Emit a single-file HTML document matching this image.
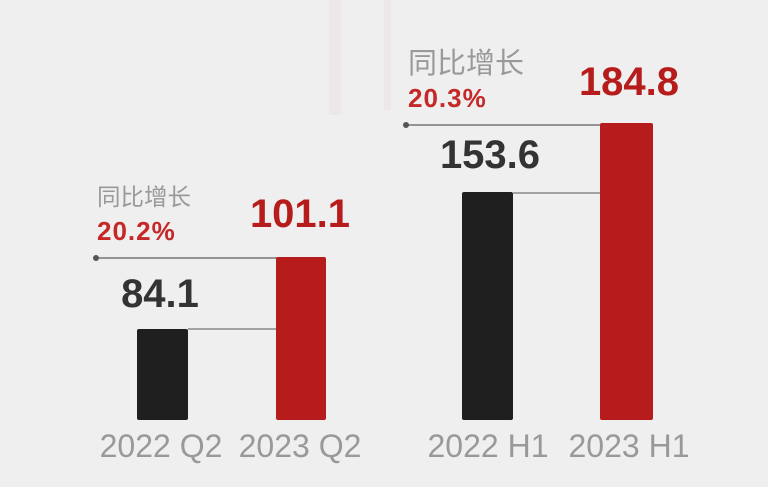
<!DOCTYPE html>
<html><head><meta charset="utf-8"><style>
html,body{margin:0;padding:0;background:#efefef;}
svg{display:block;}
</style></head><body>
<svg width="768" height="487" viewBox="0 0 768 487" xmlns="http://www.w3.org/2000/svg">
<rect width="768" height="487" fill="#efefef"/>
<rect x="329" y="0" width="12" height="115" fill="#e8dede" opacity="0.35"/>
<rect x="384" y="0" width="7" height="110" fill="#e8dede" opacity="0.35"/>
<!-- left group -->
<line x1="96" y1="258" x2="278" y2="258" stroke="#777" stroke-width="1.5"/>
<circle cx="96" cy="258" r="3" fill="#555"/>
<line x1="188" y1="329" x2="278" y2="329" stroke="#888" stroke-width="1.5"/>
<rect x="137" y="329" width="51" height="91" rx="2" fill="#1f1f1f"/>
<rect x="276" y="257" width="50" height="163" rx="2" fill="#b71c1c"/>
<g font-family="Liberation Sans, 'Noto Sans CJK SC', sans-serif">
<text x="97" y="205" font-size="23.5" fill="#999" font-family="'Noto Sans CJK SC', sans-serif">同比增长</text>
<text x="97" y="240" font-size="26" font-weight="bold" fill="#c62828" letter-spacing="1">20.2%</text>
<text x="160" y="307" font-size="40" font-weight="bold" fill="#333" text-anchor="middle">84.1</text>
<text x="300" y="227" font-size="40" font-weight="bold" fill="#b71c1c" text-anchor="middle">101.1</text>
<text x="161" y="457" font-size="32" fill="#999" text-anchor="middle">2022 Q2</text>
<text x="300" y="457" font-size="32" fill="#999" text-anchor="middle">2023 Q2</text>
<!-- right group -->
<line x1="406" y1="125" x2="602" y2="125" stroke="#777" stroke-width="1.5"/>
<circle cx="406" cy="125" r="3" fill="#555"/>
<line x1="513" y1="193" x2="602" y2="193" stroke="#888" stroke-width="1.5"/>
<rect x="462" y="192" width="51" height="228" rx="2" fill="#1f1f1f"/>
<rect x="600" y="123" width="53" height="297" rx="2" fill="#b71c1c"/>
<text x="408" y="73" font-size="29" fill="#999" font-family="'Noto Sans CJK SC', sans-serif">同比增长</text>
<text x="408" y="107" font-size="26" font-weight="bold" fill="#c62828" letter-spacing="1">20.3%</text>
<text x="490" y="168" font-size="40" font-weight="bold" fill="#333" text-anchor="middle">153.6</text>
<text x="629" y="95" font-size="40" font-weight="bold" fill="#b71c1c" text-anchor="middle">184.8</text>
<text x="488" y="457" font-size="32" fill="#999" text-anchor="middle">2022 H1</text>
<text x="629" y="457" font-size="32" fill="#999" text-anchor="middle">2023 H1</text>
</g>
</svg>
</body></html>
